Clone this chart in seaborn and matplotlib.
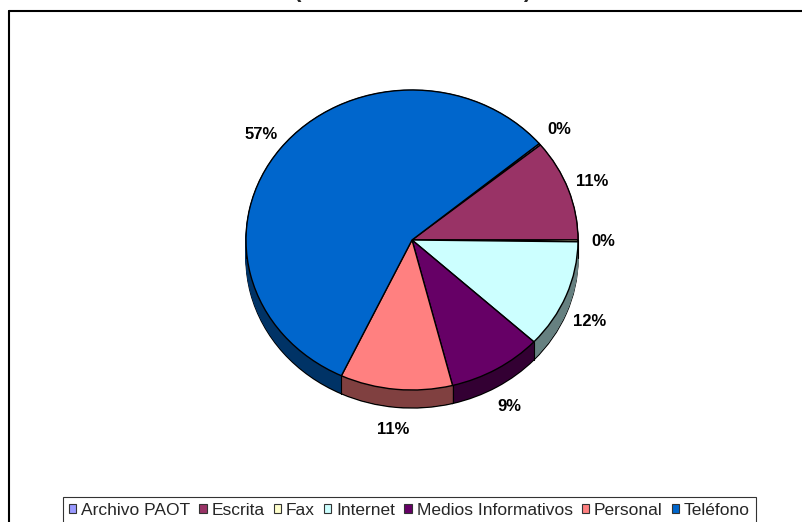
import numpy as np
import matplotlib
matplotlib.use("Agg")
import matplotlib.pyplot as plt
import seaborn as sns
from matplotlib.patches import Patch
from matplotlib.lines import Line2D

# ---- data ----
categories = ["Archivo PAOT", "Escrita", "Fax", "Internet",
              "Medios Informativos", "Personal", "Teléfono"]
values = [1, 57, 1, 61, 48, 57, 297]
pct_labels = ["0%", "11%", "0%", "12%", "9%", "11%", "57%"]
top_colors = ["#9999FF", "#993366", "#FFFFCC", "#CCFFFF",
              "#660066", "#FF8080", "#0066CC"]
side_colors = ["#4C4C80", "#4D1A33", "#808066", "#668080",
               "#330033", "#804040", "#003366"]

sns.set_theme(style="white")
plt.rcParams["font.family"] = ["Liberation Sans", "DejaVu Sans"]

W, H = 803, 522
fig = plt.figure(figsize=(W / 100, H / 100), dpi=100)
fig.patch.set_facecolor("white")

# pie geometry (pixels)
cx, cy = 412, 240
rx, ry = 166, 150
xlim = (-1.25, 1.25)
ylim = (-1.4, 1.25)
ax = fig.add_axes([(cx + xlim[0] * rx) / W,
                   (H - (cy - ylim[0] * ry)) / H,
                   (xlim[1] - xlim[0]) * rx / W,
                   (ylim[1] - ylim[0]) * ry / H])

start = 40
depth = 0.12
pal_top = sns.color_palette(top_colors)
pal_side = sns.color_palette(side_colors)

# bottom outline
ax.pie(values, colors=pal_side, startangle=start, counterclock=False,
       center=(0, -depth), wedgeprops=dict(edgecolor="black", linewidth=1.0))
# side layers
for dy in np.linspace(-depth + 0.008, 0, 30):
    ws, _ = ax.pie(values, colors=pal_side, startangle=start,
                   counterclock=False, center=(0, dy))
    for w in ws:
        w.set_edgecolor(w.get_facecolor())
        w.set_linewidth(0.6)

# vertical edges on the visible side
total = float(sum(values))
cum = np.concatenate([[0], np.cumsum(values)])
for c in cum:
    th = np.deg2rad(start - 360.0 * c / total)
    if np.sin(th) < -0.02:
        ax.plot([np.cos(th)] * 2, [np.sin(th), np.sin(th) - depth],
                color="black", lw=0.8, zorder=3)
for sx in (-1, 1):
    ax.plot([sx, sx], [0, -depth], color="black", lw=0.8, zorder=3)

# top surface
wedges, texts = ax.pie(values, colors=pal_top, startangle=start,
                       counterclock=False, labels=pct_labels,
                       labeldistance=1.15,
                       wedgeprops=dict(edgecolor="black", linewidth=1.0),
                       textprops=dict(fontsize=12, fontweight="bold",
                                      color="black"))
for w in wedges:
    w.set_zorder(4)
for t in texts:
    x, y = t.get_position()
    if y < -0.05:
        t.set_position((x, y - depth))
    t.set_ha("center")
    t.set_va("center")
    t.set_zorder(5)

ax.set_aspect("auto")
ax.set_xlim(*xlim)
ax.set_ylim(*ylim)
ax.axis("off")

# chart border (left and top visible)
fig.add_artist(Line2D([9.5 / W, 9.5 / W], [0, 1 - 11 / H],
                      transform=fig.transFigure, color="black", lw=1.5))
fig.add_artist(Line2D([9.5 / W, 1.0], [1 - 11 / H, 1 - 11 / H],
                      transform=fig.transFigure, color="black", lw=1.5))

# clipped title parentheses (only their lower ends show, as in the reference)
fig.text(298 / W, 1 + 2.5 / H, "(", fontsize=16, fontweight="bold",
         ha="center", va="baseline")
fig.text(527 / W, 1 + 2.5 / H, ")", fontsize=16, fontweight="bold",
         ha="center", va="baseline")

# legend
handles = [Patch(facecolor=c, edgecolor="#333333", linewidth=0.8)
           for c in pal_top]
leg = fig.legend(handles, categories, loc="upper left",
                 bbox_to_anchor=(62.7 / W, 1 - 497 / H),
                 bbox_transform=fig.transFigure, ncol=7,
                 fontsize=12.5, frameon=True, fancybox=False,
                 borderaxespad=0, borderpad=0.35,
                 handlelength=0.42, handleheight=0.42,
                 handletextpad=0.29, columnspacing=0.52)
leg.get_frame().set_edgecolor("black")
leg.get_frame().set_linewidth(0.8)
leg.get_frame().set_facecolor("white")

fig.savefig("out.png", dpi=100)
